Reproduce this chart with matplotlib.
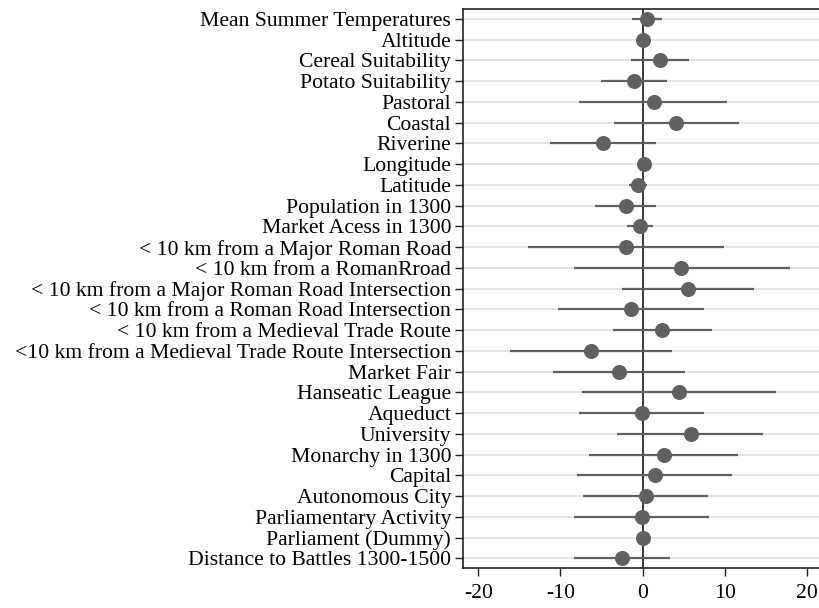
import matplotlib
matplotlib.use("Agg")
import matplotlib.pyplot as plt
import numpy as np

labels = [
    "Mean Summer Temperatures", "Altitude", "Cereal Suitability", "Potato Suitability",
    "Pastoral", "Coastal", "Riverine", "Longitude", "Latitude", "Population in 1300",
    "Market Acess in 1300", "< 10 km from a Major Roman Road", "< 10 km from a RomanRroad",
    "< 10 km from a Major Roman Road Intersection", "< 10 km from a Roman Road Intersection",
    "< 10 km from a Medieval Trade Route", "<10 km from a Medieval Trade Route Intersection",
    "Market Fair", "Hanseatic League", "Aqueduct", "University", "Monarchy in 1300",
    "Capital", "Autonomous City", "Parliamentary Activity", "Parliament (Dummy)",
    "Distance to Battles 1300-1500",
]
coef = [0.57, 0.0, 2.07, -1.05, 1.34, 4.1, -4.8, 0.12, -0.6, -2.0,
        -0.32, -2.0, 4.7, 5.5, -1.46, 2.4, -6.24, -2.87, 4.46, -0.08,
        5.84, 2.6, 1.5, 0.37, -0.08, 0.04, -2.5]
lo = [-1.29, -0.1, -1.37, -5.06, -7.7, -3.5, -11.26, 0.0, -1.6, -5.8,
      -1.94, -13.9, -8.4, -2.5, -10.3, -3.64, -16.1, -10.9, -7.33, -7.74,
      -3.12, -6.48, -7.94, -7.29, -8.3, -0.05, -8.3]
hi = [2.4, 0.1, 5.6, 2.96, 10.26, 11.7, 1.63, 0.25, 0.53, 1.7,
      1.22, 9.93, 17.9, 13.6, 7.46, 8.43, 3.57, 5.15, 16.2, 7.54,
      14.7, 11.64, 10.95, 7.99, 8.03, 0.12, 3.33]
xticks = [-20, -10, 0, 10, 20]

plt.rcParams['font.family'] = ['Liberation Serif', 'DejaVu Serif']

fig = plt.figure(figsize=(8.2, 6.08), dpi=100)
ax = fig.add_axes([463/820, 1-568/608, 1-463/820, (568-9.3)/608])

y = np.arange(1, len(labels)+1)
for yi in y:
    ax.axhline(yi, color='#e6e6e6', lw=1.4, zorder=0)
ax.axvline(0, color='#3a3a3a', lw=1.4, zorder=1)
ax.hlines(y, lo, hi, color='#606060', lw=1.6, zorder=2)
ax.plot(coef, y, 'o', color='#606060', ms=9.8, zorder=3)

ax.set_xlim(-21.85, 21.6)
ax.set_ylim(len(labels)+0.46, 0.54)
ax.set_yticks(y)
ax.set_yticklabels(labels, fontsize=15.6)
ax.set_xticks(xticks)
ax.set_xticklabels([str(t) for t in xticks], fontsize=15.6)
ax.tick_params(axis='y', length=5.5, width=1, pad=3, colors='#222222', labelcolor='black')
ax.tick_params(axis='x', length=5.5, width=1, pad=6, colors='#222222', labelcolor='black')
for s in ['left', 'bottom', 'top']:
    ax.spines[s].set_color('#222222')
    ax.spines[s].set_linewidth(1.2)
ax.spines['right'].set_visible(False)

fig.savefig('out.png', dpi=100)
